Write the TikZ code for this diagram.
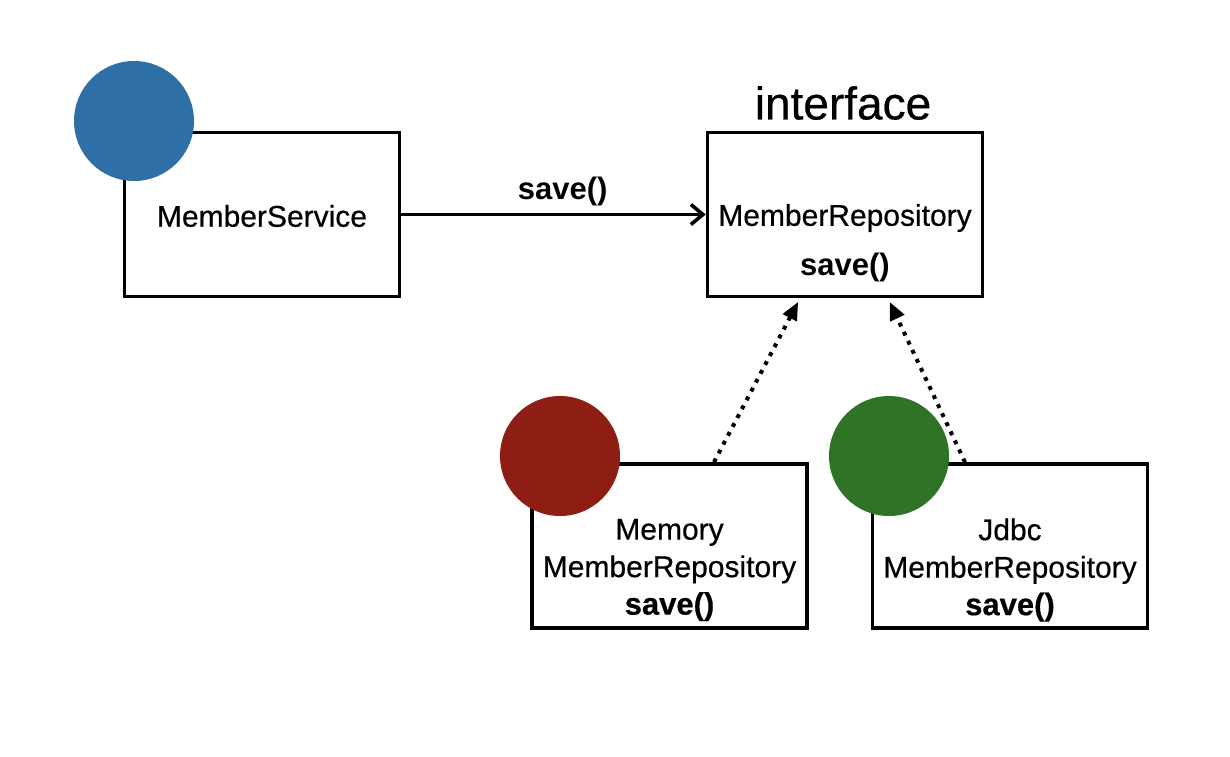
\documentclass[tikz,border=0pt]{standalone}
\usepackage{fontspec}
\setmainfont{Liberation Sans}
\newfontfamily\medfont{Liberation Sans}[FakeBold=0.5]
\usetikzlibrary{arrows.meta}
\definecolor{svcblue}{RGB}{46,111,166}
\definecolor{memred}{RGB}{142,30,20}
\definecolor{jdbcgreen}{RGB}{46,115,38}
\tikzstyle{box}=[draw, line width=1.8pt, minimum width=137.5pt, minimum height=82pt, inner sep=0pt]
\tikzstyle{blob}=[circle, minimum size=60pt, inner sep=0pt]
\tikzstyle{classname}=[font=\fontsize{15}{18.75}\medfont, align=center, inner sep=0pt]
\tikzstyle{impl}=[line width=2pt, dash pattern=on 2pt off 3pt, -{Triangle[length=9pt,width=7.5pt]}, shorten >=2pt]

\begin{document}
\begin{tikzpicture}[x=0.5pt, y=-0.5pt]
\useasboundingbox (0,0) rectangle (1230,756);
% Boxes
    \node[box] (service) at (262,214.5) {};
    \node[box] (repo) at (845,214.5) {};
    \node[box] (mem) at (669.5,546) {};
    \node[box] (jdbc) at (1010,546) {};
% Texts
    \node[classname] (servicetext) at (262,216) {MemberService};
    \node[font=\fontsize{23}{28}\medfont] (iface) at (843,103) {interface};
    \node[classname] (repotext) at (845,218) {MemberRepository};
    \node[classname, font=\fontsize{15.5}{18}\bfseries] (reposave) at (845,267) {save()};
    \node[classname] (memtext) at (669.5,570) {Memory\\MemberRepository\\{\bfseries\fontsize{15.5}{18}\selectfont save()}};
    \node[classname] (jdbctext) at (1010,570) {Jdbc\\MemberRepository\\{\bfseries\fontsize{15.5}{18}\selectfont save()}};
% Circles
    \node[blob, fill=svcblue] (servicedot) at (134,121) {};
    \node[blob, fill=memred] (memdot) at (560,456) {};
    \node[blob, fill=jdbcgreen] (jdbcdot) at (889,456) {};
% Call
    \draw[line width=1.8pt, -{Straight Barb[length=6pt,width=10pt]}] (service.east) -- (repo.west)
        node[pos=0.53, above=0pt, font=\fontsize{15.5}{18}\bfseries] (callsave) {save()};
% Implementations
    \draw[impl] ([xshift=22.25pt]mem.north) -- ([xshift=-22.5pt]repo.south);
    \draw[impl] ([xshift=-22.5pt]jdbc.north) -- ([xshift=21.5pt]repo.south);
\end{tikzpicture}
\end{document}
